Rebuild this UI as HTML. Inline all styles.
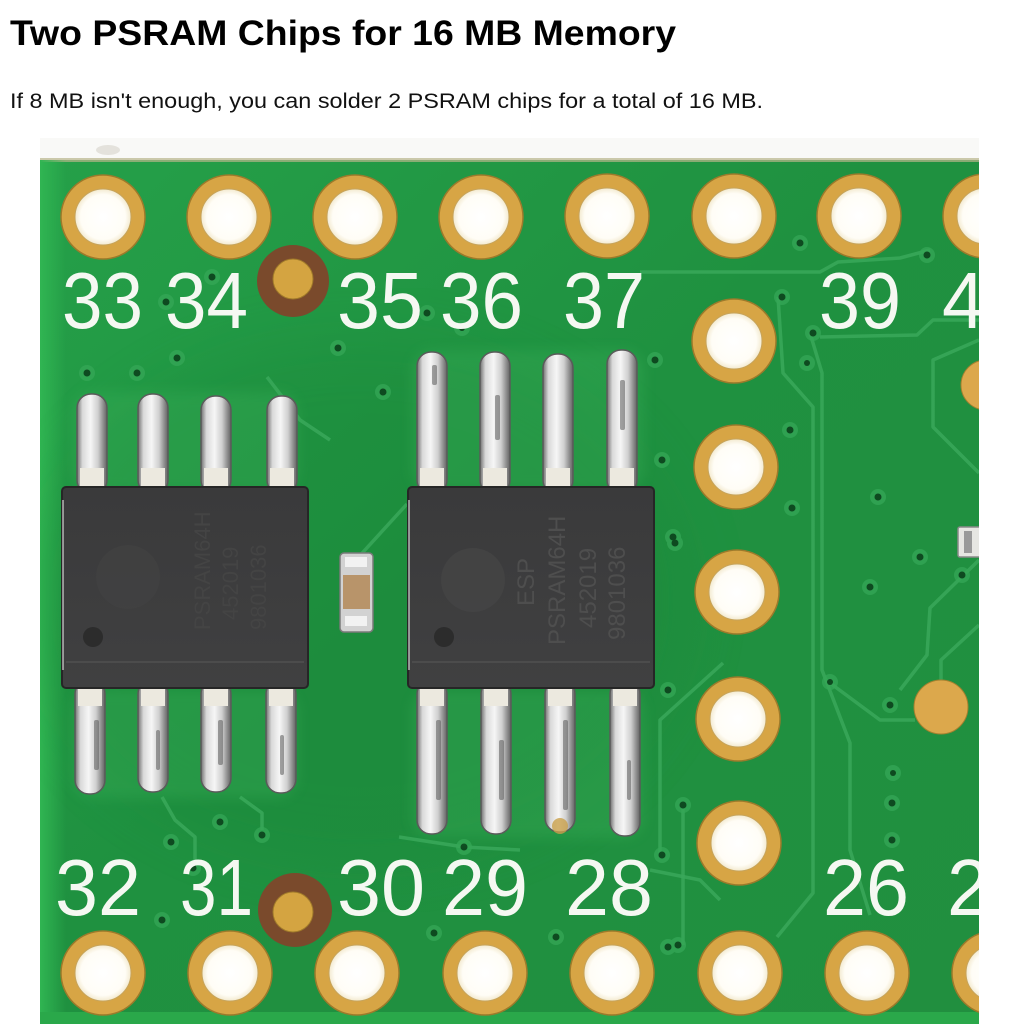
<!DOCTYPE html>
<html>
<head>
<meta charset="utf-8">
<style>
html,body{margin:0;padding:0;background:#fff;width:1024px;height:1024px;overflow:hidden;}
svg{display:block;}
</style>
</head>
<body>
<svg width="1024" height="1024" viewBox="0 0 1024 1024" xmlns="http://www.w3.org/2000/svg">
<defs>
  <clipPath id="photo"><rect x="40" y="138" width="939" height="886"/></clipPath>
  <linearGradient id="pcb" x1="0" y1="0" x2="1" y2="1">
    <stop offset="0" stop-color="#25a049"/>
    <stop offset="0.45" stop-color="#1f9140"/>
    <stop offset="1" stop-color="#218f3f"/>
  </linearGradient>
  <linearGradient id="edge" x1="0" y1="0" x2="1" y2="0">
    <stop offset="0" stop-color="#30b552"/>
    <stop offset="1" stop-color="#30b552" stop-opacity="0"/>
  </linearGradient>
  <linearGradient id="lead" x1="0" y1="0" x2="1" y2="0">
    <stop offset="0" stop-color="#6e6e6e"/>
    <stop offset="0.18" stop-color="#d9d9d9"/>
    <stop offset="0.45" stop-color="#f6f6f6"/>
    <stop offset="0.7" stop-color="#cfcfcf"/>
    <stop offset="1" stop-color="#626262"/>
  </linearGradient>
  <radialGradient id="hole" cx="0.5" cy="0.5" r="0.5">
    <stop offset="0" stop-color="#ffffff"/>
    <stop offset="0.8" stop-color="#fffdf6"/>
    <stop offset="1" stop-color="#f3ead0"/>
  </radialGradient>
  <linearGradient id="chip" x1="0" y1="0" x2="0" y2="1">
    <stop offset="0" stop-color="#3a3a3b"/>
    <stop offset="1" stop-color="#404041"/>
  </linearGradient>
  <filter id="blur6"><feGaussianBlur stdDeviation="6"/></filter>
  <filter id="blur30"><feGaussianBlur stdDeviation="30"/></filter>
</defs>

<!-- Heading and paragraph -->
<text x="10" y="45" font-family="Liberation Sans, Arial, sans-serif" font-weight="bold" font-size="35" fill="#000" textLength="666" lengthAdjust="spacingAndGlyphs">Two PSRAM Chips for 16 MB Memory</text>
<text x="10" y="108" font-family="Liberation Sans, Arial, sans-serif" font-size="21" fill="#111" textLength="753" lengthAdjust="spacingAndGlyphs">If 8 MB isn't enough, you can solder 2 PSRAM chips for a total of 16 MB.</text>

<g clip-path="url(#photo)">
  <!-- light background band -->
  <rect x="40" y="138" width="939" height="886" fill="#f9f9f7"/>
  <ellipse cx="108" cy="150" rx="12" ry="5" fill="#e4e2dc"/>
  <!-- board -->
  <rect x="40" y="160" width="939" height="864" fill="url(#pcb)"/>
  <rect x="40" y="158" width="939" height="4" fill="#b8b58a" opacity="0.7"/>
  <rect x="40" y="160" width="26" height="864" fill="url(#edge)"/>
  <rect x="40" y="1012" width="939" height="12" fill="#2aa84a"/>
  <!-- subtle darker patches -->
  <ellipse cx="360" cy="600" rx="330" ry="260" fill="#167c33" opacity="0.2" filter="url(#blur30)"/>

  <!-- traces -->
  <g fill="none" stroke="#3aa85a" stroke-width="3.5" stroke-opacity="0.85" stroke-linejoin="round">
    <polyline points="640,272 820,272 838,262 900,258 930,250"/>
    <polyline points="820,337 917,335 933,320 979,320"/>
    <polyline points="778,297 783,373 813,407 813,893 777,937"/>
    <polyline points="810,333 822,373 822,670 850,743 850,850 870,915"/>
    <polyline points="979,340 933,360 933,427 979,473"/>
    <polyline points="979,560 930,608 927,655 900,690"/>
    <polyline points="830,683 880,720 915,720"/>
    <polyline points="941,680 941,660 979,625"/>
    <polyline points="723,663 660,720 660,853"/>
    <polyline points="683,805 683,945"/>
    <polyline points="162,797 175,820 195,837 195,867"/>
    <polyline points="240,797 262,813 262,830"/>
    <polyline points="399,837 464,847 520,850"/>
    <polyline points="354,562 407,504"/>
    <polyline points="267,377 300,420 330,440"/>
    <polyline points="650,870 700,880 720,900"/>
  </g>

  <!-- vias -->
  <g>
    <g fill="#35a757" opacity="0.75">
      <circle cx="212" cy="277" r="8"/><circle cx="166" cy="302" r="8"/><circle cx="427" cy="313" r="8"/>
      <circle cx="462" cy="328" r="8"/><circle cx="177" cy="358" r="8"/><circle cx="338" cy="348" r="8"/>
      <circle cx="87" cy="373" r="8"/><circle cx="137" cy="373" r="8"/><circle cx="383" cy="392" r="8"/>
      <circle cx="800" cy="243" r="8"/><circle cx="927" cy="255" r="8"/><circle cx="782" cy="297" r="8"/>
      <circle cx="813" cy="333" r="8"/><circle cx="807" cy="363" r="8"/><circle cx="655" cy="360" r="8"/>
      <circle cx="790" cy="430" r="8"/><circle cx="662" cy="460" r="8"/><circle cx="792" cy="508" r="8"/>
      <circle cx="878" cy="497" r="8"/><circle cx="675" cy="543" r="8"/><circle cx="920" cy="557" r="8"/>
      <circle cx="962" cy="575" r="8"/><circle cx="870" cy="587" r="8"/><circle cx="668" cy="690" r="8"/>
      <circle cx="830" cy="682" r="8"/><circle cx="890" cy="705" r="8"/><circle cx="893" cy="773" r="8"/>
      <circle cx="892" cy="803" r="8"/><circle cx="892" cy="840" r="8"/><circle cx="683" cy="805" r="8"/>
      <circle cx="662" cy="855" r="8"/><circle cx="678" cy="945" r="8"/><circle cx="220" cy="822" r="8"/>
      <circle cx="262" cy="835" r="8"/><circle cx="171" cy="842" r="8"/><circle cx="193" cy="868" r="8"/>
      <circle cx="162" cy="920" r="8"/><circle cx="434" cy="933" r="8"/><circle cx="556" cy="937" r="8"/>
      <circle cx="464" cy="847" r="8"/><circle cx="668" cy="947" r="8"/><circle cx="673" cy="537" r="8"/>
    </g>
    <g fill="#0e4a20">
      <circle cx="212" cy="277" r="3.5"/><circle cx="166" cy="302" r="3.5"/><circle cx="427" cy="313" r="3.5"/>
      <circle cx="462" cy="328" r="3"/><circle cx="177" cy="358" r="3.5"/><circle cx="338" cy="348" r="3.5"/>
      <circle cx="87" cy="373" r="3.5"/><circle cx="137" cy="373" r="3.5"/><circle cx="383" cy="392" r="3.5"/>
      <circle cx="800" cy="243" r="3.5"/><circle cx="927" cy="255" r="3.5"/><circle cx="782" cy="297" r="3.5"/>
      <circle cx="813" cy="333" r="3.5"/><circle cx="807" cy="363" r="3"/><circle cx="655" cy="360" r="3.5"/>
      <circle cx="790" cy="430" r="3.5"/><circle cx="662" cy="460" r="3.5"/><circle cx="792" cy="508" r="3.5"/>
      <circle cx="878" cy="497" r="3.5"/><circle cx="675" cy="543" r="3.5"/><circle cx="920" cy="557" r="3.5"/>
      <circle cx="962" cy="575" r="3.5"/><circle cx="870" cy="587" r="3.5"/><circle cx="668" cy="690" r="3.5"/>
      <circle cx="830" cy="682" r="3"/><circle cx="890" cy="705" r="3.5"/><circle cx="893" cy="773" r="3"/>
      <circle cx="892" cy="803" r="3.5"/><circle cx="892" cy="840" r="3.5"/><circle cx="683" cy="805" r="3.5"/>
      <circle cx="662" cy="855" r="3.5"/><circle cx="678" cy="945" r="3.5"/><circle cx="220" cy="822" r="3.5"/>
      <circle cx="262" cy="835" r="3.5"/><circle cx="171" cy="842" r="3.5"/><circle cx="193" cy="868" r="3.5"/>
      <circle cx="162" cy="920" r="3.5"/><circle cx="434" cy="933" r="3.5"/><circle cx="556" cy="937" r="3.5"/>
      <circle cx="464" cy="847" r="3.5"/><circle cx="668" cy="947" r="3.5"/><circle cx="673" cy="537" r="3.5"/>
    </g>
  </g>

  <!-- through-hole pads -->
  <g>
    <g fill="#d7a545" stroke="#9c7a2b" stroke-width="1.5">
      <circle cx="103" cy="217" r="42"/><circle cx="229" cy="217" r="42"/><circle cx="355" cy="217" r="42"/>
      <circle cx="481" cy="217" r="42"/><circle cx="607" cy="216" r="42"/><circle cx="734" cy="216" r="42"/>
      <circle cx="859" cy="216" r="42"/><circle cx="985" cy="216" r="42"/>
      <circle cx="734" cy="341" r="42"/><circle cx="736" cy="467" r="42"/><circle cx="737" cy="592" r="42"/>
      <circle cx="738" cy="719" r="42"/><circle cx="739" cy="843" r="42"/>
      <circle cx="103" cy="973" r="42"/><circle cx="230" cy="973" r="42"/><circle cx="357" cy="973" r="42"/>
      <circle cx="485" cy="973" r="42"/><circle cx="612" cy="973" r="42"/><circle cx="740" cy="973" r="42"/>
      <circle cx="867" cy="973" r="42"/><circle cx="994" cy="973" r="42"/>
    </g>
    <g fill="url(#hole)" stroke="#c6a45c" stroke-width="1">
      <circle cx="103" cy="217" r="28"/><circle cx="229" cy="217" r="28"/><circle cx="355" cy="217" r="28"/>
      <circle cx="481" cy="217" r="28"/><circle cx="607" cy="216" r="28"/><circle cx="734" cy="216" r="28"/>
      <circle cx="859" cy="216" r="28"/><circle cx="985" cy="216" r="28"/>
      <circle cx="734" cy="341" r="28"/><circle cx="736" cy="467" r="28"/><circle cx="737" cy="592" r="28"/>
      <circle cx="738" cy="719" r="28"/><circle cx="739" cy="843" r="28"/>
      <circle cx="103" cy="973" r="28"/><circle cx="230" cy="973" r="28"/><circle cx="357" cy="973" r="28"/>
      <circle cx="485" cy="973" r="28"/><circle cx="612" cy="973" r="28"/><circle cx="740" cy="973" r="28"/>
      <circle cx="867" cy="973" r="28"/><circle cx="994" cy="973" r="28"/>
    </g>
  </g>

  <!-- brown vias -->
  <circle cx="293" cy="281" r="36" fill="#7a4a2c"/>
  <circle cx="293" cy="279" r="20" fill="#d4a441" stroke="#a07a2a" stroke-width="1"/>
  <circle cx="295" cy="910" r="37" fill="#7a4a2c"/>
  <circle cx="293" cy="912" r="20" fill="#d4a441" stroke="#a07a2a" stroke-width="1"/>

  <!-- small gold pads right -->
  <circle cx="986" cy="385" r="25" fill="#dca84c" stroke="#a3802f" stroke-width="1"/>
  <circle cx="941" cy="707" r="27" fill="#dca84c" stroke="#a3802f" stroke-width="1"/>
  <rect x="958" y="527" width="24" height="30" rx="2" fill="#e6e6e2" stroke="#8a8a8a" stroke-width="1.5"/>
  <rect x="964" y="531" width="8" height="22" fill="#9a9a9a"/>

  <!-- silkscreen labels -->
  <g font-family="Liberation Sans, Arial, sans-serif" font-size="80" fill="#f5f8f2">
    <text x="62" y="328" textLength="81" lengthAdjust="spacingAndGlyphs">33</text>
    <text x="165" y="328" textLength="83" lengthAdjust="spacingAndGlyphs">34</text>
    <text x="337" y="328" textLength="86" lengthAdjust="spacingAndGlyphs">35</text>
    <text x="440" y="328" textLength="83" lengthAdjust="spacingAndGlyphs">36</text>
    <text x="563" y="328" textLength="82" lengthAdjust="spacingAndGlyphs">37</text>
    <text x="819" y="328" textLength="82" lengthAdjust="spacingAndGlyphs">39</text>
    <text x="942" y="328" textLength="43" lengthAdjust="spacingAndGlyphs">4</text>
    <text x="55" y="915" textLength="86" lengthAdjust="spacingAndGlyphs">32</text>
    <text x="180" y="915" textLength="73" lengthAdjust="spacingAndGlyphs">31</text>
    <text x="337" y="915" textLength="88" lengthAdjust="spacingAndGlyphs">30</text>
    <text x="442" y="915" textLength="86" lengthAdjust="spacingAndGlyphs">29</text>
    <text x="565" y="915" textLength="88" lengthAdjust="spacingAndGlyphs">28</text>
    <text x="823" y="915" textLength="86" lengthAdjust="spacingAndGlyphs">26</text>
    <text x="947" y="915" textLength="43" lengthAdjust="spacingAndGlyphs">2</text>
  </g>

  <!-- solder flux halos -->
  <g fill="#3cb35c" opacity="0.3" filter="url(#blur6)">
    <rect x="72" y="392" width="226" height="100" rx="20"/>
    <rect x="412" y="350" width="232" height="140" rx="20"/>
    <rect x="72" y="690" width="226" height="108" rx="20"/>
    <rect x="412" y="690" width="232" height="148" rx="20"/>
  </g>

  <!-- leads -->
  <g fill="url(#lead)" stroke="#5a5a5a" stroke-width="1.5">
    <rect x="77" y="394" width="30" height="100" rx="14"/>
    <rect x="138" y="394" width="30" height="100" rx="14"/>
    <rect x="201" y="396" width="30" height="98" rx="14"/>
    <rect x="267" y="396" width="30" height="98" rx="14"/>
    <rect x="75" y="680" width="30" height="114" rx="14"/>
    <rect x="138" y="680" width="30" height="112" rx="14"/>
    <rect x="201" y="680" width="30" height="112" rx="14"/>
    <rect x="266" y="680" width="30" height="113" rx="14"/>
    <rect x="417" y="352" width="30" height="142" rx="14"/>
    <rect x="480" y="352" width="30" height="142" rx="14"/>
    <rect x="543" y="354" width="30" height="140" rx="14"/>
    <rect x="607" y="350" width="30" height="144" rx="14"/>
    <rect x="417" y="680" width="30" height="154" rx="14"/>
    <rect x="481" y="680" width="30" height="154" rx="14"/>
    <rect x="545" y="680" width="30" height="152" rx="14"/>
    <rect x="610" y="680" width="30" height="156" rx="14"/>
  </g>
  <!-- dark streaks on leads -->
  <g fill="#5a5a5a" opacity="0.55">
    <rect x="94" y="720" width="5" height="50" rx="2"/>
    <rect x="156" y="730" width="4" height="40" rx="2"/>
    <rect x="218" y="720" width="5" height="45" rx="2"/>
    <rect x="280" y="735" width="4" height="40" rx="2"/>
    <rect x="436" y="720" width="5" height="80" rx="2"/>
    <rect x="499" y="740" width="5" height="60" rx="2"/>
    <rect x="563" y="720" width="5" height="90" rx="2"/>
    <rect x="627" y="760" width="4" height="40" rx="2"/>
    <rect x="495" y="395" width="5" height="45" rx="2"/>
    <rect x="620" y="380" width="5" height="50" rx="2"/>
    <rect x="432" y="365" width="5" height="20" rx="2"/>
  </g>
  <circle cx="560" cy="826" r="8" fill="#c9a04a" opacity="0.8"/>
  <!-- lead feet near body -->
  <g fill="#ece9df">
    <rect x="80" y="468" width="24" height="20"/><rect x="141" y="468" width="24" height="20"/>
    <rect x="204" y="468" width="24" height="20"/><rect x="270" y="468" width="24" height="20"/>
    <rect x="420" y="468" width="24" height="20"/><rect x="483" y="468" width="24" height="20"/>
    <rect x="546" y="468" width="24" height="20"/><rect x="610" y="468" width="24" height="20"/>
    <rect x="78" y="688" width="24" height="18"/><rect x="141" y="688" width="24" height="18"/>
    <rect x="204" y="688" width="24" height="18"/><rect x="269" y="688" width="24" height="18"/>
    <rect x="420" y="688" width="24" height="18"/><rect x="484" y="688" width="24" height="18"/>
    <rect x="548" y="688" width="24" height="18"/><rect x="613" y="688" width="24" height="18"/>
  </g>

  <!-- chip bodies -->
  <g>
    <rect x="62" y="487" width="246" height="201" rx="4" fill="url(#chip)" stroke="#262626" stroke-width="2"/>
    <line x1="66" y1="662" x2="304" y2="662" stroke="#555" stroke-width="2" opacity="0.6"/>
    <circle cx="128" cy="577" r="32" fill="#444" opacity="0.5"/>
    <circle cx="93" cy="637" r="10" fill="#2c2c2c"/>
    <line x1="63" y1="500" x2="63" y2="670" stroke="#d8d8d8" stroke-width="2" opacity="0.6"/>
    <g font-family="Liberation Sans, Arial, sans-serif" font-size="22" fill="#444">
      <text transform="translate(210,630) rotate(-90)">PSRAM64H</text>
      <text transform="translate(238,620) rotate(-90)">452019</text>
      <text transform="translate(266,630) rotate(-90)">9801036</text>
    </g>

    <rect x="408" y="487" width="246" height="201" rx="4" fill="url(#chip)" stroke="#262626" stroke-width="2"/>
    <line x1="412" y1="662" x2="650" y2="662" stroke="#555" stroke-width="2" opacity="0.6"/>
    <circle cx="473" cy="580" r="32" fill="#474747" opacity="0.6"/>
    <circle cx="444" cy="637" r="10" fill="#2c2c2c"/>
    <line x1="409" y1="500" x2="409" y2="670" stroke="#d8d8d8" stroke-width="2" opacity="0.6"/>
    <g font-family="Liberation Sans, Arial, sans-serif" font-size="24" fill="#4e4e4e">
      <text transform="translate(534,606) rotate(-90)">ESP</text>
      <text transform="translate(565,645) rotate(-90)">PSRAM64H</text>
      <text transform="translate(596,628) rotate(-90)">452019</text>
      <text transform="translate(625,640) rotate(-90)">9801036</text>
    </g>
  </g>

  <!-- capacitor -->
  <rect x="340" y="553" width="33" height="79" rx="4" fill="#d2d2d2" stroke="#7a7a7a" stroke-width="1.5"/>
  <rect x="343" y="575" width="27" height="34" fill="#b8946a"/>
  <rect x="345" y="557" width="22" height="10" fill="#f2f2f2"/>
  <rect x="345" y="616" width="22" height="10" fill="#f2f2f2"/>
</g>
</svg>
</body>
</html>
